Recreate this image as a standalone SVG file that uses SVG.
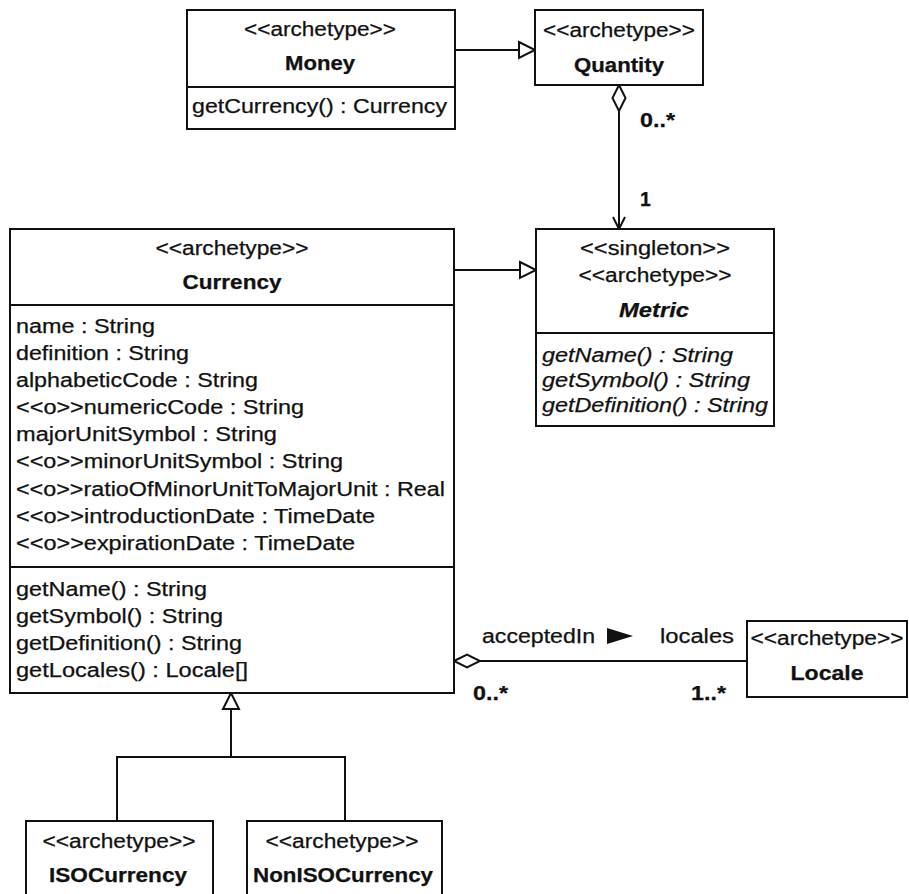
<svg xmlns="http://www.w3.org/2000/svg" width="909" height="894" viewBox="0 0 909 894">
  <style>
    text { font-family: "Liberation Sans", Arial, sans-serif; font-size: 19.5px; fill: #111; stroke: #111; stroke-width: 0.25px; }
    .c { text-anchor: middle; }
    .b { font-weight: bold; }
    .i { font-style: italic; }
    .box { fill: #fff; stroke: #111; stroke-width: 2; }
    .sep { stroke: #111; stroke-width: 2; }
    .edge { fill: none; stroke: #111; stroke-width: 2; }
  </style>
  <defs>
    <!-- hollow triangle for generalization -->
    <marker id="gen" markerUnits="userSpaceOnUse" markerWidth="18" markerHeight="18" refX="16" refY="8" orient="auto" overflow="visible">
      <path d="M0,0 L16,8 L0,16 Z" fill="#fff" stroke="#111" stroke-width="2"/>
    </marker>
    <!-- hollow diamond for aggregation (drawn along the line from its start) -->
    <marker id="agg" markerUnits="userSpaceOnUse" markerWidth="27" markerHeight="14" refX="0" refY="6.5" orient="auto" overflow="visible">
      <path d="M0,6.5 L13,0 L26,6.5 L13,13 Z" fill="#fff" stroke="#111" stroke-width="2"/>
    </marker>
    <!-- open arrowhead for navigability -->
    <marker id="nav" markerUnits="userSpaceOnUse" markerWidth="14" markerHeight="14" refX="12" refY="6" orient="auto" overflow="visible">
      <path d="M0,0 L12,6 L0,12" fill="none" stroke="#111" stroke-width="2"/>
    </marker>
  </defs>

  <g id="connectors">
    <line class="edge" x1="455" y1="50" x2="535" y2="50" marker-end="url(#gen)"/>
    <line class="edge" x1="454" y1="270" x2="536" y2="270" marker-end="url(#gen)"/>
    <line class="edge" x1="619" y1="85" x2="619" y2="229" marker-start="url(#agg)" marker-end="url(#nav)"/>
    <path class="edge" d="M117,821 V757 H345 V821"/>
    <line class="edge" x1="231" y1="757" x2="231" y2="693" marker-end="url(#gen)"/>
    <line class="edge" x1="454" y1="661" x2="747" y2="661" marker-start="url(#agg)"/>
    <text class="b" x="640" y="127" textLength="35" lengthAdjust="spacingAndGlyphs">0..*</text>
    <text class="b" x="640" y="206">1</text>
    <text x="482" y="643" textLength="113" lengthAdjust="spacingAndGlyphs">acceptedIn</text>
    <polygon points="607,628 633,636 607,644" fill="#111"/>
    <text x="660" y="643" textLength="74" lengthAdjust="spacingAndGlyphs">locales</text>
    <text class="b" x="473" y="700" textLength="35" lengthAdjust="spacingAndGlyphs">0..*</text>
    <text class="b" x="691" y="700" textLength="35" lengthAdjust="spacingAndGlyphs">1..*</text>
  </g>

  <g id="money">
    <rect class="box" x="187" y="10" width="268" height="119"/>
    <line class="sep" x1="187" y1="87" x2="455" y2="87"/>
    <text class="c" x="320" y="36" textLength="152" lengthAdjust="spacingAndGlyphs">&lt;&lt;archetype&gt;&gt;</text>
    <text class="c b" x="320" y="70" textLength="70" lengthAdjust="spacingAndGlyphs">Money</text>
    <text x="192" y="113" textLength="255" lengthAdjust="spacingAndGlyphs">getCurrency() : Currency</text>
  </g>

  <g id="quantity">
    <rect class="box" x="535" y="10" width="168" height="75"/>
    <text class="c" x="619" y="37" textLength="152" lengthAdjust="spacingAndGlyphs">&lt;&lt;archetype&gt;&gt;</text>
    <text class="c b" x="619" y="72" textLength="90" lengthAdjust="spacingAndGlyphs">Quantity</text>
  </g>

  <g id="currency">
    <rect class="box" x="10" y="229" width="444" height="464"/>
    <line class="sep" x1="10" y1="305" x2="454" y2="305"/>
    <line class="sep" x1="10" y1="567" x2="454" y2="567"/>
    <text class="c" x="232" y="255" textLength="153" lengthAdjust="spacingAndGlyphs">&lt;&lt;archetype&gt;&gt;</text>
    <text class="c b" x="232" y="289" textLength="99" lengthAdjust="spacingAndGlyphs">Currency</text>
    <text x="16" y="333" textLength="139" lengthAdjust="spacingAndGlyphs">name : String</text>
    <text x="16" y="360" textLength="173" lengthAdjust="spacingAndGlyphs">definition : String</text>
    <text x="16" y="387" textLength="242" lengthAdjust="spacingAndGlyphs">alphabeticCode : String</text>
    <text x="16" y="414" textLength="288" lengthAdjust="spacingAndGlyphs">&lt;&lt;o&gt;&gt;numericCode : String</text>
    <text x="16" y="441" textLength="261" lengthAdjust="spacingAndGlyphs">majorUnitSymbol : String</text>
    <text x="16" y="468" textLength="327" lengthAdjust="spacingAndGlyphs">&lt;&lt;o&gt;&gt;minorUnitSymbol : String</text>
    <text x="16" y="496" textLength="429" lengthAdjust="spacingAndGlyphs">&lt;&lt;o&gt;&gt;ratioOfMinorUnitToMajorUnit : Real</text>
    <text x="16" y="523" textLength="359" lengthAdjust="spacingAndGlyphs">&lt;&lt;o&gt;&gt;introductionDate : TimeDate</text>
    <text x="16" y="550" textLength="339" lengthAdjust="spacingAndGlyphs">&lt;&lt;o&gt;&gt;expirationDate : TimeDate</text>
    <text x="16" y="596" textLength="191" lengthAdjust="spacingAndGlyphs">getName() : String</text>
    <text x="16" y="623" textLength="207" lengthAdjust="spacingAndGlyphs">getSymbol() : String</text>
    <text x="16" y="650" textLength="226" lengthAdjust="spacingAndGlyphs">getDefinition() : String</text>
    <text x="16" y="677" textLength="232" lengthAdjust="spacingAndGlyphs">getLocales() : Locale[]</text>
  </g>

  <g id="metric">
    <rect class="box" x="536" y="229" width="238" height="197"/>
    <line class="sep" x1="536" y1="333" x2="774" y2="333"/>
    <text class="c" x="655" y="255" textLength="150" lengthAdjust="spacingAndGlyphs">&lt;&lt;singleton&gt;&gt;</text>
    <text class="c" x="655" y="282" textLength="153" lengthAdjust="spacingAndGlyphs">&lt;&lt;archetype&gt;&gt;</text>
    <text class="c b i" x="654" y="317" textLength="70" lengthAdjust="spacingAndGlyphs">Metric</text>
    <text class="i" x="542" y="362" textLength="191" lengthAdjust="spacingAndGlyphs">getName() : String</text>
    <text class="i" x="542" y="387" textLength="208" lengthAdjust="spacingAndGlyphs">getSymbol() : String</text>
    <text class="i" x="542" y="412" textLength="226" lengthAdjust="spacingAndGlyphs">getDefinition() : String</text>
  </g>

  <g id="locale">
    <rect class="box" x="747" y="621" width="160" height="76"/>
    <text class="c" x="827" y="645" textLength="153" lengthAdjust="spacingAndGlyphs">&lt;&lt;archetype&gt;&gt;</text>
    <text class="c b" x="827" y="680" textLength="73" lengthAdjust="spacingAndGlyphs">Locale</text>
  </g>

  <g id="isocurrency">
    <rect class="box" x="26" y="821" width="187" height="90"/>
    <text class="c" x="119" y="848" textLength="153" lengthAdjust="spacingAndGlyphs">&lt;&lt;archetype&gt;&gt;</text>
    <text class="c b" x="118" y="882" textLength="138" lengthAdjust="spacingAndGlyphs">ISOCurrency</text>
  </g>

  <g id="nonisocurrency">
    <rect class="box" x="247" y="821" width="195" height="90"/>
    <text class="c" x="342" y="848" textLength="153" lengthAdjust="spacingAndGlyphs">&lt;&lt;archetype&gt;&gt;</text>
    <text class="c b" x="343" y="882" textLength="180" lengthAdjust="spacingAndGlyphs">NonISOCurrency</text>
  </g>
</svg>
